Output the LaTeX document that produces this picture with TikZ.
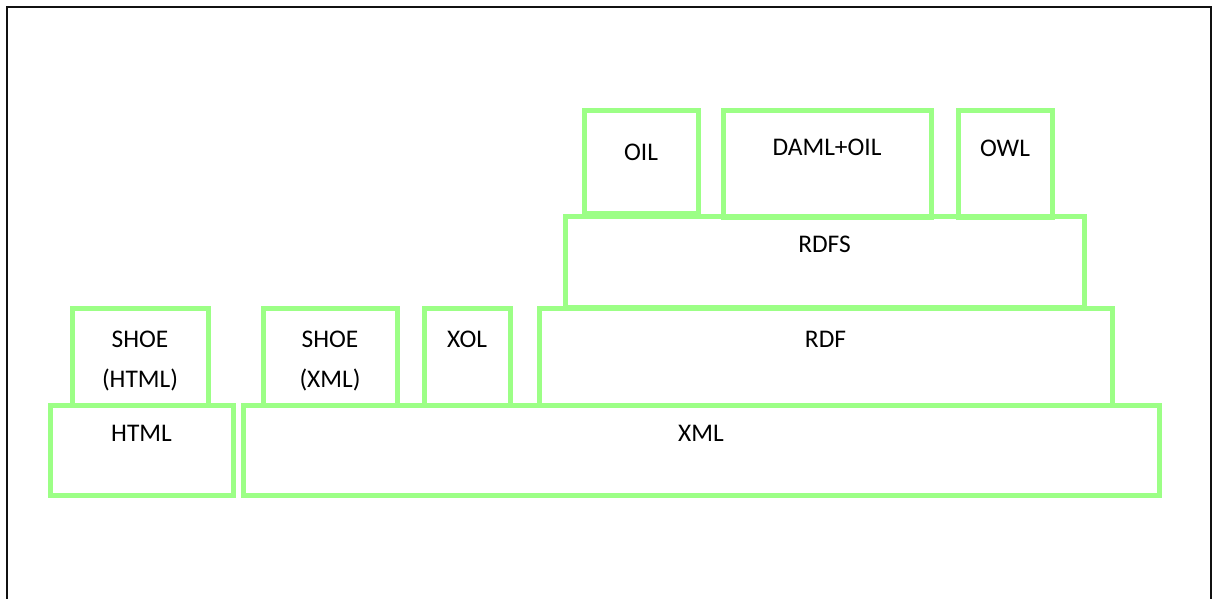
\documentclass[tikz,border=0pt]{standalone}
\usepackage{fontspec}
\setmainfont{Carlito}
\usetikzlibrary{calc}
\definecolor{LayerGreen}{HTML}{9CFF86}
\definecolor{FrameBlack}{HTML}{111111}
\tikzset{
    % Layer boxes - sharp corners, light green outline
    layer/.style={
        rectangle,
        draw=LayerGreen,
        line width=2.5pt,
        outer sep=0pt,
        inner sep=0pt
    },
    % Layer names
    lbl/.style={
        font=\fontsize{12.7pt}{20pt}\selectfont,
        align=center,
        inner sep=0pt,
        text=black
    }
}
\begin{document}
\begin{tikzpicture}[x=0.5pt, y=-0.5pt]
    \useasboundingbox (0,0) rectangle (1216,599);
    \draw[FrameBlack, line width=1.3pt] (7,599) -- (7,7) -- (1211,7) -- (1211,599);

    % Bottom layer
    \node[layer, minimum width=91.5pt, minimum height=45pt] (html) at (141.5,450) {};
    \node[layer, minimum width=458pt, minimum height=45pt] (xml) at (701,450) {};

    % Second layer
    \node[layer, minimum width=68pt, minimum height=48.5pt] (shoehtml) at (140,356.5) {};
    \node[layer, minimum width=67pt, minimum height=48.5pt] (shoexml) at (330,356.5) {};
    \node[layer, minimum width=43pt, minimum height=48.5pt] (xol) at (467,356.5) {};
    \node[layer, minimum width=286.5pt, minimum height=48.5pt] (rdf) at (825.5,356.5) {};

    % Third layer
    \node[layer, minimum width=259.5pt, minimum height=45.5pt] (rdfs) at (824.5,261.5) {};

    % Top layer
    \node[layer, minimum width=57pt, minimum height=51pt] (oil) at (641,162) {};
    \node[layer, minimum width=104pt, minimum height=53.5pt] (daml) at (827,164) {};
    \node[layer, minimum width=47pt, minimum height=53.5pt] (owl) at (1005,164) {};

    % Names
    \node[lbl] (html-l) at ($(html.north)+(0,28)$) {HTML};
    \node[lbl] (xml-l) at ($(xml.north)+(0,28)$) {XML};
    \node[lbl] (shoehtml-l) at ($(shoehtml.north)+(0,53)$) {SHOE\\(HTML)};
    \node[lbl] (shoexml-l) at ($(shoexml.north)+(0,53)$) {SHOE\\(XML)};
    \node[lbl] (xol-l) at ($(xol.north)+(0,31)$) {XOL};
    \node[lbl] (rdf-l) at ($(rdf.north)+(0,31)$) {RDF};
    \node[lbl] (rdfs-l) at ($(rdfs.north)+(0,28)$) {RDFS};
    \node[lbl] (oil-l) at ($(oil.north)+(0,41)$) {OIL};
    \node[lbl] (daml-l) at ($(daml.north)+(0,36.5)$) {DAML+OIL};
    \node[lbl] (owl-l) at ($(owl.north)+(0,38)$) {OWL};
\end{tikzpicture}
\end{document}
